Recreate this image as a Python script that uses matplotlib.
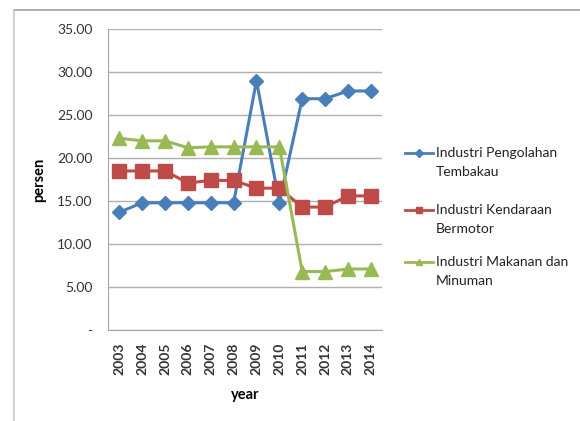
import matplotlib.pyplot as plt
from matplotlib.lines import Line2D

plt.rcParams['font.family'] = ['Lato', 'DejaVu Sans']

# Data
years = ['2003', '2004', '2005', '2006', '2007', '2008',
         '2009', '2010', '2011', '2012', '2013', '2014']
tembakau = [13.7, 14.8, 14.8, 14.8, 14.8, 14.8, 29.0, 14.8, 26.9, 26.9, 27.8, 27.8]
kendaraan = [18.5, 18.5, 18.5, 17.1, 17.4, 17.4, 16.5, 16.5, 14.3, 14.3, 15.6, 15.6]
makanan = [22.3, 22.0, 22.0, 21.2, 21.3, 21.3, 21.3, 21.3, 6.8, 6.8, 7.1, 7.1]
labels = [['Industri Pengolahan', 'Tembakau'],
          ['Industri Kendaraan', 'Bermotor'],
          ['Industri Makanan dan', 'Minuman']]
colors = ['#4a7ebb', '#be4b48', '#98b954']
markers = ['D', 's', '^']
yticks = [0, 5, 10, 15, 20, 25, 30, 35]

W, H = 580, 421
fig = plt.figure(figsize=(W / 100, H / 100), dpi=100)
ax = fig.add_axes([0.186, 0.216, 0.473, 0.715])

x = range(len(years))
ax.plot(x, tembakau, color=colors[0], marker='D', markersize=7.5, lw=2.2)
ax.plot(x, kendaraan, color=colors[1], marker='s', markersize=9.5, lw=2.2)
ax.plot(x, makanan, color=colors[2], marker='^', markersize=10, lw=2.2)

ax.set_xlim(-0.5, len(years) - 0.5)
ax.set_ylim(0, 35)
ax.set_yticks(yticks)
ax.set_yticklabels(['-' if v == 0 else f'{v:.2f}' for v in yticks])
ax.set_xticks(list(x))
ax.set_xticklabels(years, rotation=90, fontweight='bold')
ax.tick_params(axis='both', length=0, labelsize=10, colors='#333333')
ax.tick_params(axis='y', pad=11)
ax.tick_params(axis='x', pad=9)
ax.grid(axis='y', color='#b0b0b0', lw=1)
ax.set_axisbelow(True)
for s in ['top', 'right']:
    ax.spines[s].set_visible(False)
for s in ['left', 'bottom']:
    ax.spines[s].set_color('#a6a6a6')

ax.set_xlabel('year', fontsize=10.5, fontweight='bold', labelpad=9)
ax.set_ylabel('persen', fontsize=10.5, fontweight='bold', labelpad=8)

# legend, drawn by hand so the key sits beside the first text line
rows = [(153, 172), (210, 229), (262, 281)]
msizes = [4, 5, 5]
for (y1, y2), lab, c, m, ms in zip(rows, labels, colors, markers, msizes):
    fy1, fy2 = 1 - y1 / H, 1 - y2 / H
    fig.add_artist(Line2D([405 / W, 433 / W], [fy1, fy1], color=c, lw=2))
    fig.add_artist(Line2D([419 / W], [fy1], color=c, marker=m, markersize=ms))
    fig.text(436 / W, fy1, lab[0], fontsize=10, color='#222222', va='center')
    fig.text(436 / W, fy2, lab[1], fontsize=10, color='#222222', va='center')

# outer frame
fig.add_artist(Line2D([0.024, 1.0], [0.977, 0.977], color='#a0a0a0', lw=1.2))
fig.add_artist(Line2D([0.024, 0.024], [0.0, 0.977], color='#c8c8c8', lw=1.2))

fig.savefig('out.png', dpi=100)
